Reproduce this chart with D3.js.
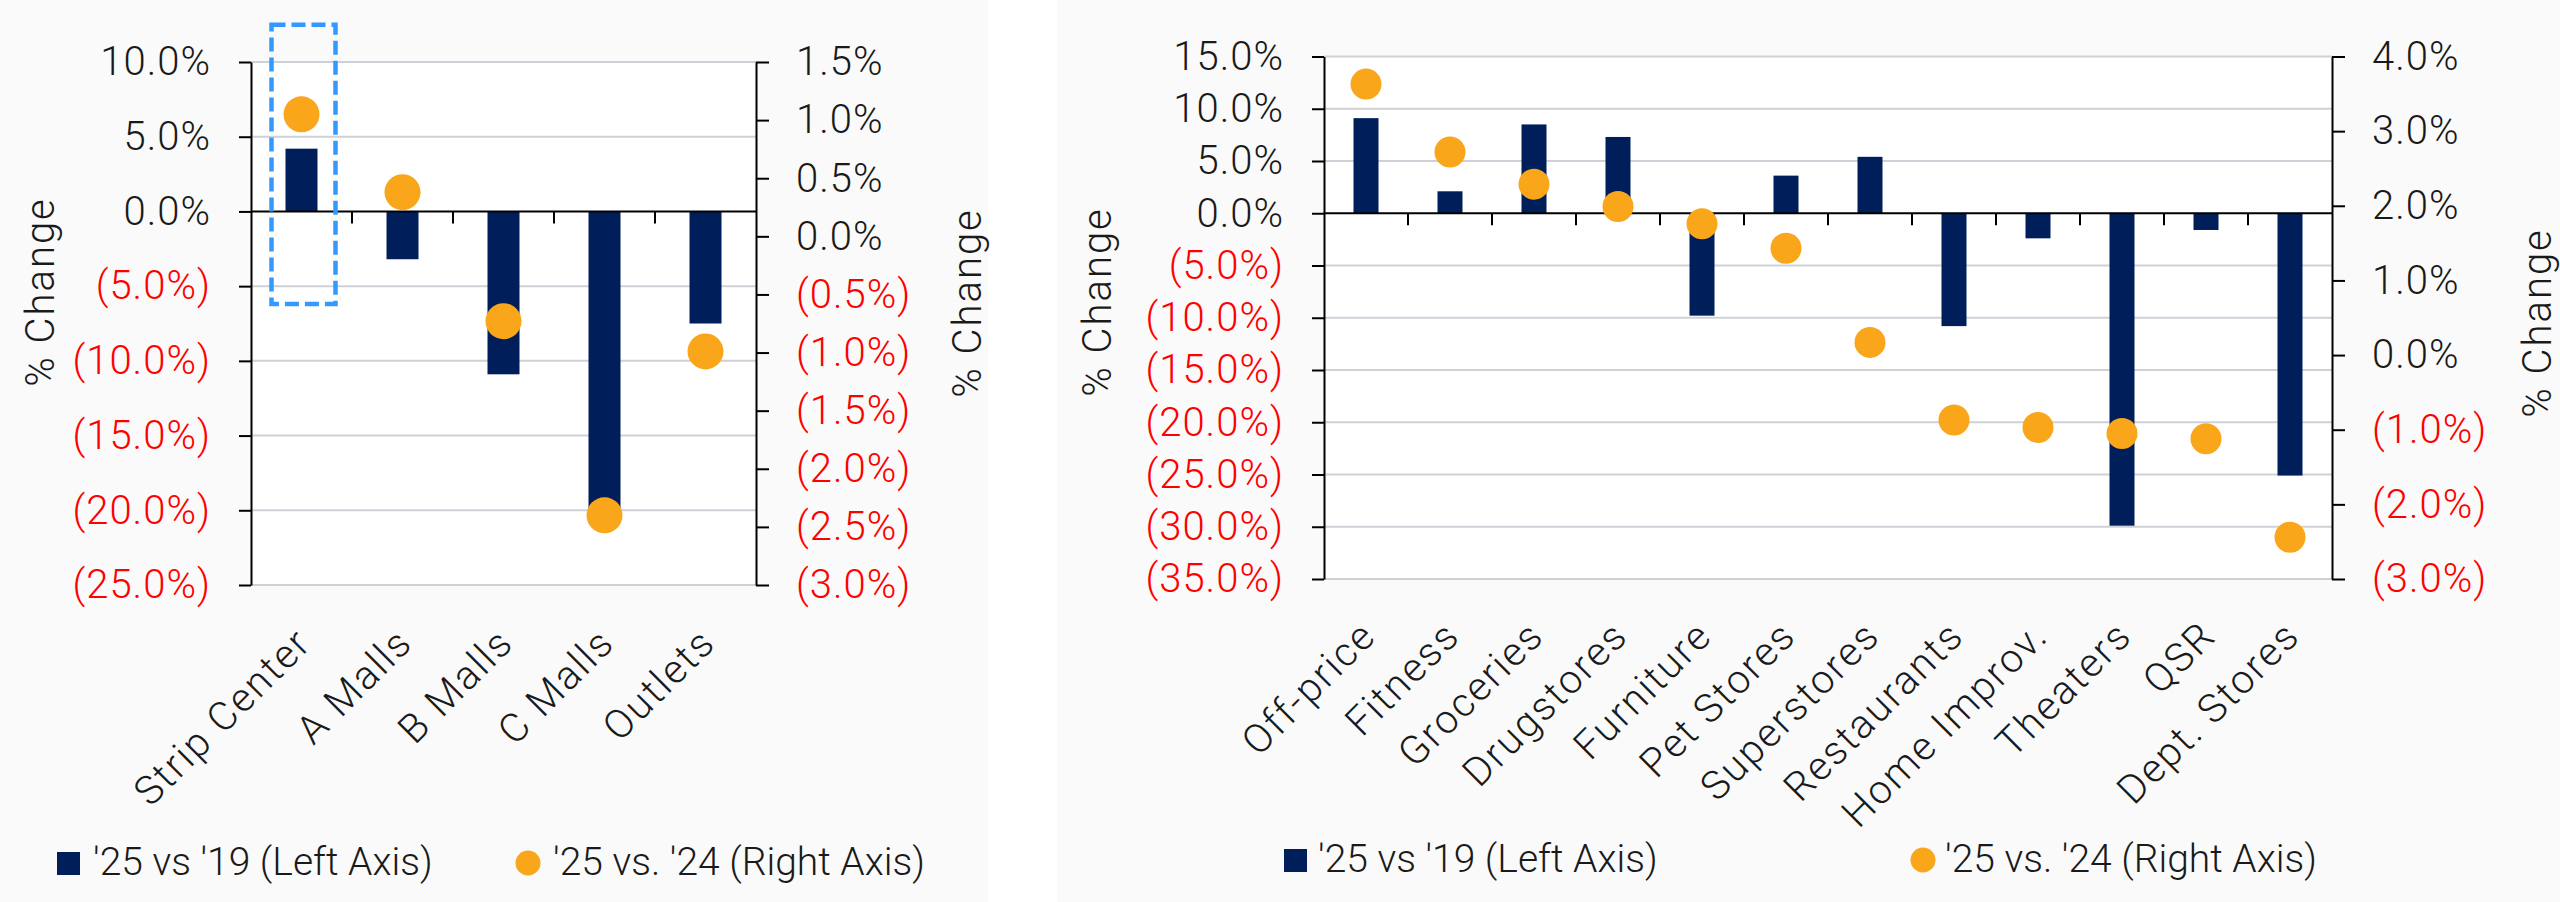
<!DOCTYPE html>
<html>
<head>
<meta charset="utf-8">
<script src="https://cdn.jsdelivr.net/npm/d3@7"></script>
<style>
  body { margin: 0; background: #ffffff; }
  text { font-family: Roboto, "Liberation Sans", sans-serif; font-weight: 300; }
</style>
</head>
<body>
<div id="plotDiv"></div>
<script>
// --- left panel: shopping center formats ---
const formatCats = ['Strip Center', 'A Malls', 'B Malls', 'C Malls', 'Outlets'];
const formatVs19 = [4.2, -3.2, -10.9, -19.9, -7.5];      // left axis, %
const formatVs24 = [1.05, 0.38, -0.73, -2.40, -0.99];     // right axis, %
const formatTicksL = [10, 5, 0, -5, -10, -15, -20, -25];
const formatTicksR = [1.5, 1.0, 0.5, 0, -0.5, -1.0, -1.5, -2.0, -2.5, -3.0];

// --- right panel: tenant categories ---
const tenantCats = ['Off-price', 'Fitness', 'Groceries', 'Drugstores', 'Furniture', 'Pet Stores',
  'Superstores', 'Restaurants', 'Home Improv.', 'Theaters', 'QSR', 'Dept. Stores'];
const tenantVs19 = [9.1, 2.1, 8.5, 7.3, -9.8, 3.6, 5.4, -10.8, -2.4, -29.9, -1.6, -25.1];
const tenantVs24 = [3.63, 2.72, 2.29, 1.99, 1.76, 1.43, 0.17, -0.87, -0.97, -1.05, -1.12, -2.44];
const tenantTicksL = [15, 10, 5, 0, -5, -10, -15, -20, -25, -30, -35];
const tenantTicksR = [4, 3, 2, 1, 0, -1, -2, -3];

const legendLabels = ["'25 vs '19 (Left Axis)", "'25 vs. '24 (Right Axis)"];

const W = 2560, H = 902;
const navy = '#001e5a', orange = '#f9a61b', red = '#ff0000', grid = '#cdd2d9';

const svg = d3.select('#plotDiv').append('svg')
  .attr('width', W).attr('height', H);

// (5.0%) style for negatives
const fmt = v => v < 0 ? `(${(-v).toFixed(1)}%)` : `${v.toFixed(1)}%`;

function drawPanel(p) {
  const g = svg.append('g');

  // light panel background + white plot area
  g.append('rect').attr('x', p.panel[0]).attr('y', 0)
    .attr('width', p.panel[1] - p.panel[0]).attr('height', H).attr('fill', '#fafafa');
  g.append('rect').attr('x', p.x0).attr('y', p.y0)
    .attr('width', p.x1 - p.x0).attr('height', p.y1 - p.y0).attr('fill', '#ffffff');

  const x = d3.scaleBand().domain(p.cats).range([p.x0, p.x1]);
  const yL = d3.scaleLinear().domain([d3.min(p.ticksL), d3.max(p.ticksL)]).range([p.y1, p.y0]);
  const yR = d3.scaleLinear().domain([d3.min(p.ticksR), d3.max(p.ticksR)]).range([p.y1, p.y0]);

  // gridlines on left-axis ticks
  g.selectAll('.grid').data(p.ticksL.filter(d => d !== 0)).enter()
    .append('line')
    .attr('x1', p.x0).attr('x2', p.x1)
    .attr('y1', d => yL(d)).attr('y2', d => yL(d))
    .attr('stroke', grid).attr('stroke-width', 2);

  // bars
  g.selectAll('.bar').data(p.bars).enter()
    .append('rect')
    .attr('x', (d, i) => x(p.cats[i]) + (x.bandwidth() - p.barW) / 2)
    .attr('y', d => yL(Math.max(0, d)))
    .attr('width', p.barW)
    .attr('height', d => Math.abs(yL(d) - yL(0)))
    .attr('fill', navy);

  // zero line + category separators
  g.append('line').attr('x1', p.x0).attr('x2', p.x1)
    .attr('y1', yL(0)).attr('y2', yL(0))
    .attr('stroke', '#000').attr('stroke-width', 2);
  g.selectAll('.sep').data(p.cats.slice(1)).enter()
    .append('line')
    .attr('x1', d => x(d)).attr('x2', d => x(d))
    .attr('y1', yL(0)).attr('y2', yL(0) + 12)
    .attr('stroke', '#000').attr('stroke-width', 2);

  // dots on right axis
  g.selectAll('.dot').data(p.dots).enter()
    .append('circle')
    .attr('cx', (d, i) => x(p.cats[i]) + x.bandwidth() / 2)
    .attr('cy', d => yR(d))
    .attr('r', p.dotR)
    .attr('fill', orange);

  // axes
  const axL = g.append('g').attr('transform', `translate(${p.x0},0)`)
    .call(d3.axisLeft(yL).tickValues(p.ticksL).tickSize(12).tickSizeOuter(0)
      .tickPadding(28).tickFormat(fmt));
  const axR = g.append('g').attr('transform', `translate(${p.x1},0)`)
    .call(d3.axisRight(yR).tickValues(p.ticksR).tickSize(13).tickSizeOuter(0)
      .tickPadding(27).tickFormat(fmt));
  [axL, axR].forEach(ax => {
    ax.attr('font-family', null).attr('font-size', null);
    ax.selectAll('path, line').attr('stroke', '#000').attr('stroke-width', 2);
    ax.selectAll('text')
      .style('font-size', '40px').style('letter-spacing', '1px')
      .attr('fill', d => d < 0 ? red : '#1a1a1a');
  });

  // rotated category labels
  g.selectAll('.cat').data(p.cats).enter()
    .append('text')
    .attr('transform', d => `translate(${x(d) + x.bandwidth() / 2 + p.labDx},${p.labY}) rotate(-45)`)
    .attr('text-anchor', 'end')
    .style('font-size', '40px').style('letter-spacing', '2px')
    .attr('fill', '#1a1a1a')
    .text(d => d);

  // "% Change" axis titles
  p.titles.forEach(t => {
    g.append('text')
      .attr('transform', `translate(${t[0]},${t[1]}) rotate(-90)`)
      .attr('text-anchor', 'middle')
      .style('font-size', '40px').style('letter-spacing', '2px')
      .attr('fill', '#1a1a1a')
      .text('% Change');
  });

  // legend
  const lg = p.legend;
  g.append('rect').attr('x', lg.sq).attr('y', lg.base - 23)
    .attr('width', 23).attr('height', 23).attr('fill', navy);
  g.append('text').attr('x', lg.t1).attr('y', lg.base)
    .style('font-size', '39px').attr('fill', '#1a1a1a').text(legendLabels[0]);
  g.append('circle').attr('cx', lg.dot).attr('cy', lg.base - 12).attr('r', 12.5).attr('fill', orange);
  g.append('text').attr('x', lg.t2).attr('y', lg.base)
    .style('font-size', '39px').attr('fill', '#1a1a1a').text(legendLabels[1]);

  return { x, yL };
}

const left = drawPanel({
  panel: [0, 988], x0: 251, x1: 756, y0: 62, y1: 585,
  cats: formatCats, bars: formatVs19, dots: formatVs24,
  ticksL: formatTicksL, ticksR: formatTicksR,
  barW: 32, dotR: 18, labDx: 12, labY: 645,
  titles: [[54, 292], [981, 303]],
  legend: { sq: 57, t1: 93, dot: 528, t2: 553, base: 875 }
});

// highlight box around Strip Center
const sx = left.x('Strip Center') + left.x.bandwidth() / 2;
svg.append('rect')
  .attr('x', sx - 30).attr('y', left.yL(12.5))
  .attr('width', 64).attr('height', left.yL(-6.2) - left.yL(12.5))
  .attr('fill', 'none').attr('stroke', '#3399ff')
  .attr('stroke-width', 4.5).attr('stroke-dasharray', '14 6');

drawPanel({
  panel: [1057, 2560], x0: 1324, x1: 2332, y0: 56.5, y1: 579,
  cats: tenantCats, bars: tenantVs19, dots: tenantVs24,
  ticksL: tenantTicksL, ticksR: tenantTicksR,
  barW: 25, dotR: 15.5, labDx: 12, labY: 638,
  titles: [[1111, 302], [2551, 323]],
  legend: { sq: 1284, t1: 1318, dot: 1923, t2: 1945, base: 872 }
});
</script>
</body>
</html>
